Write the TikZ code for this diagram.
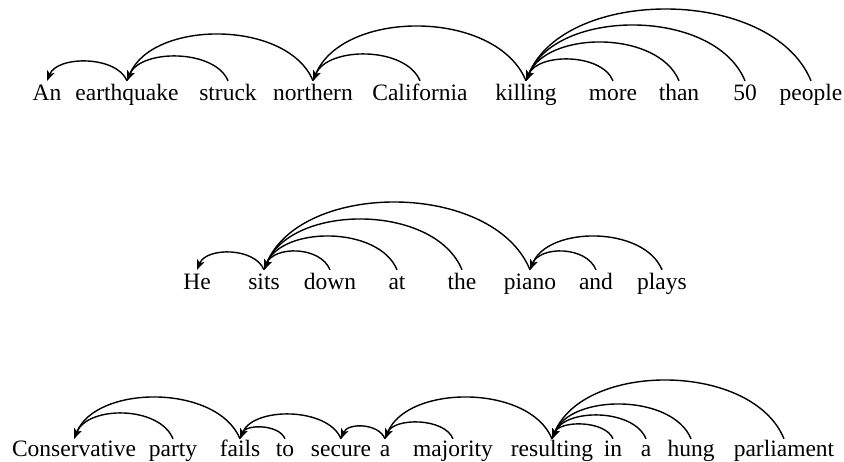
\documentclass[tikz,border=0pt]{standalone}
\usepackage{fontspec}
\setmainfont{Liberation Serif}
\usetikzlibrary{arrows.meta}
\newcommand\deparc[3]{\draw[dep] (#1.north) .. controls +({-0.55*#3},{1.333*#3}) and +({0.55*#3},{1.333*#3}) .. (#2.north);}
\begin{document}
\begin{tikzpicture}[x=1pt,y=1pt,
  w/.style={font=\fontsize{23.5}{26}\selectfont, inner sep=0pt, anchor=base, text height=20pt, text depth=6pt},
  w3/.style={w, text height=17pt},
  dep/.style={line width=1.4pt, -{Stealth[length=10pt,width=8pt,inset=2.5pt]}}]
\useasboundingbox (0,0) rectangle (844,461);
% Row 1
\node[w] (an) at (47,360) {An};
\node[w] (earthquake) at (127,360) {earthquake};
\node[w] (struck) at (228,360) {struck};
\node[w] (northern) at (313,360) {northern};
\node[w] (california) at (420,360) {California};
\node[w] (killing) at (526,360) {killing};
\node[w] (more) at (613,360) {more};
\node[w] (than) at (679,360) {than};
\node[w] (fifty) at (745,360) {50};
\node[w] (people) at (811,360) {people};
\deparc{earthquake}{an}{19}
\deparc{struck}{earthquake}{24}
\deparc{northern}{earthquake}{46}
\deparc{california}{northern}{26}
\deparc{killing}{northern}{54}
\deparc{more}{killing}{21}
\deparc{than}{killing}{38}
\deparc{fifty}{killing}{55}
\deparc{people}{killing}{71}
% Row 2
\node[w] (he) at (197,171) {He};
\node[w] (sits) at (264,171) {sits};
\node[w] (down) at (330,171) {down};
\node[w] (at) at (397,171) {at};
\node[w] (the) at (462,171) {the};
\node[w] (piano) at (530,171) {piano};
\node[w] (and) at (596,171) {and};
\node[w] (plays) at (662,171) {plays};
\deparc{sits}{he}{17}
\deparc{down}{sits}{18}
\deparc{at}{sits}{33}
\deparc{the}{sits}{50}
\deparc{piano}{sits}{67}
\deparc{and}{piano}{18}
\deparc{plays}{piano}{33}
% Row 3
\node[w3] (conservative) at (74,5) {Conservative};
\node[w3] (party) at (173,5) {party};
\node[w3] (fails) at (240,5) {fails};
\node[w3] (to) at (285,5) {to};
\node[w3] (secure) at (341,5) {secure};
\node[w3] (a1) at (385,5) {a};
\node[w3] (majority) at (453,5) {majority};
\node[w3] (resulting) at (552,5) {resulting};
\node[w3] (in) at (613,5) {in};
\node[w3] (a2) at (646,5) {a};
\node[w3] (hung) at (691,5) {hung};
\node[w3] (parliament) at (784,5) {parliament};
\deparc{party}{conservative}{25}
\deparc{fails}{conservative}{41}
\deparc{to}{fails}{11}
\deparc{secure}{fails}{24}
\deparc{a1}{secure}{12}
\deparc{majority}{a1}{16}
\deparc{resulting}{a1}{41}
\deparc{in}{resulting}{14}
\deparc{a2}{resulting}{23}
\deparc{hung}{resulting}{34}
\deparc{parliament}{resulting}{58}
\end{tikzpicture}
\end{document}
